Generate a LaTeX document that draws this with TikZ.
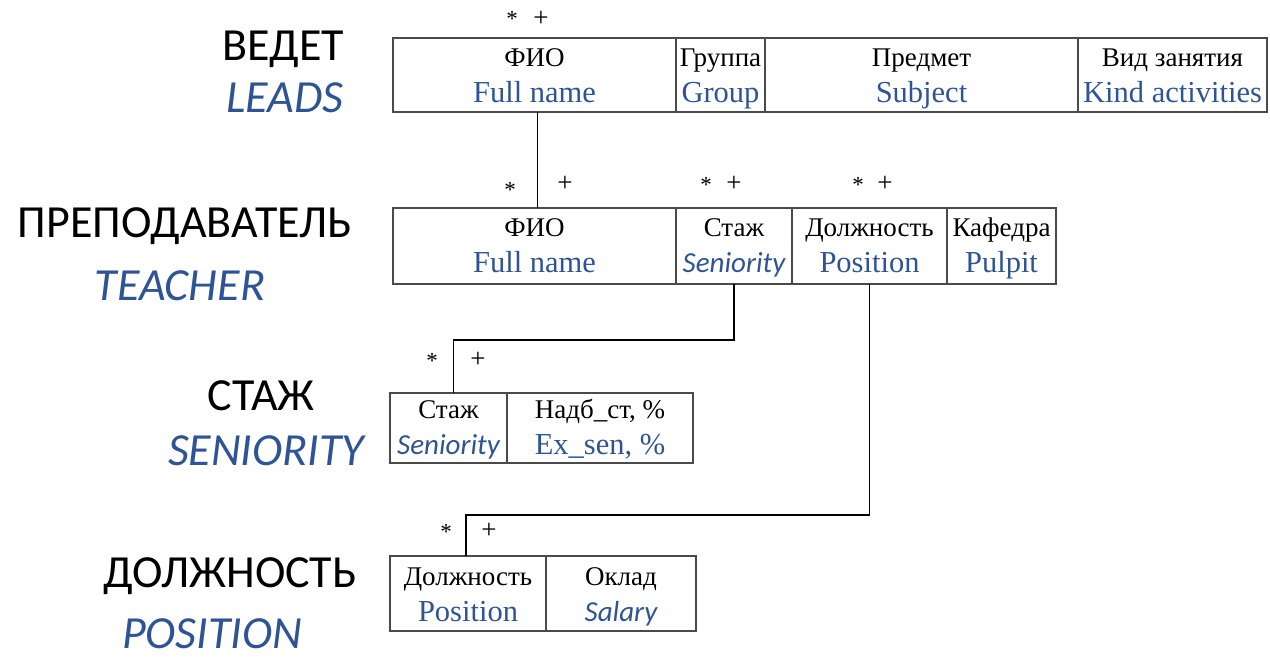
\documentclass[tikz,border=0pt]{standalone}
\usepackage{fontspec}
\setmainfont{Liberation Serif}
\newfontfamily\calibri{Carlito}
\usetikzlibrary{positioning}
\definecolor{ErBlue}{HTML}{2F5496}
\definecolor{ErFrame}{HTML}{4A4A4A}
\tikzset{
  cell/.style n args={2}{draw=ErFrame,line width=1.4pt,inner sep=0pt,outer sep=0pt,
    minimum width=#1,minimum height=#2},
  hdr/.style={anchor=base,inner sep=0pt,font=\fontsize{27}{30}\selectfont},
  eng/.style={anchor=base,inner sep=0pt,text=ErBlue,font=\fontsize{30.5}{33}\selectfont},
  engit/.style={eng,font=\calibri\itshape\fontsize{29}{32}\selectfont},
  title/.style={anchor=base,inner sep=0pt,font=\calibri\fontsize{46}{50}\selectfont},
  subtitle/.style={title,text=ErBlue,font=\calibri\itshape\fontsize{46}{50}\selectfont},
  card/.style={anchor=base,inner sep=0pt,font=\fontsize{23}{25}\selectfont},
  plus/.style={card,font=\fontsize{27}{29}\selectfont},
  link/.style={draw=black,line width=1.3pt}
}
\begin{document}
\begin{tikzpicture}[x=1pt,y=-1pt]
  \useasboundingbox (0,0) rectangle (1270,657);
  % entity names
  \node[title] (tLead) at (283,60) {ВЕДЕТ};
  \node[subtitle] (tLeadEn) at (285,112) {LEADS};
  \node[title] (tTeach) at (185,237) {ПРЕПОДАВАТЕЛЬ};
  \node[subtitle] (tTeachEn) at (180,300) {TEACHER};
  \node[title] (tSen) at (261,410) {СТАЖ};
  \node[subtitle] (tSenEn) at (266,465) {SENIORITY};
  \node[title] (tPos) at (230,587) {ДОЛЖНОСТЬ};
  \node[subtitle] (tPosEn) at (212,648) {POSITION};

  % ВЕДЕТ
  \node[cell={283}{74},anchor=north west] (leadFio) at (393,38) {};
  \node[cell={89}{74},right=0pt of leadFio] (leadGrp) {};
  \node[cell={313}{74},right=0pt of leadGrp] (leadSubj) {};
  \node[cell={189}{74},right=0pt of leadSubj] (leadKind) {};
  \node[hdr] (leadFioH) at ([yshift=-28]leadFio.north) {ФИО};
  \node[eng] (leadFioE) at ([yshift=-64]leadFio.north) {Full name};
  \node[hdr] (leadGrpH) at ([yshift=-28]leadGrp.north) {Группа};
  \node[eng] (leadGrpE) at ([yshift=-64]leadGrp.north) {Group};
  \node[hdr] (leadSubjH) at ([yshift=-28]leadSubj.north) {Предмет};
  \node[eng] (leadSubjE) at ([yshift=-64]leadSubj.north) {Subject};
  \node[hdr] (leadKindH) at ([yshift=-28]leadKind.north) {Вид занятия};
  \node[eng] (leadKindE) at ([yshift=-64]leadKind.north) {Kind activities};

  % ПРЕПОДАВАТЕЛЬ
  \node[cell={283}{76},anchor=north west] (teachFio) at (393,208) {};
  \node[cell={116}{76},right=0pt of teachFio] (teachSen) {};
  \node[cell={155}{76},right=0pt of teachSen] (teachPos) {};
  \node[cell={109}{76},right=0pt of teachPos] (teachDep) {};
  \node[hdr] (teachFioH) at ([yshift=-28]teachFio.north) {ФИО};
  \node[eng] (teachFioE) at ([yshift=-64]teachFio.north) {Full name};
  \node[hdr] (teachSenH) at ([yshift=-28]teachSen.north) {Стаж};
  \node[engit] (teachSenE) at ([yshift=-64]teachSen.north) {Seniority};
  \node[hdr] (teachPosH) at ([yshift=-28]teachPos.north) {Должность};
  \node[eng] (teachPosE) at ([yshift=-64]teachPos.north) {Position};
  \node[hdr] (teachDepH) at ([yshift=-28]teachDep.north) {Кафедра};
  \node[eng] (teachDepE) at ([yshift=-64]teachDep.north) {Pulpit};

  % СТАЖ
  \node[cell={117}{70},anchor=north west] (senSen) at (390,393) {};
  \node[cell={186}{70},right=0pt of senSen] (senBonus) {};
  \node[hdr] (senSenH) at ([yshift=-25]senSen.north) {Стаж};
  \node[engit] (senSenE) at ([yshift=-61]senSen.north) {Seniority};
  \node[hdr] (senBonusH) at ([yshift=-25]senBonus.north) {Надб\_ст, \%};
  \node[eng] (senBonusE) at ([yshift=-61]senBonus.north) {Ex\_sen, \%};

  % ДОЛЖНОСТЬ
  \node[cell={156}{75},anchor=north west] (posPos) at (390,556) {};
  \node[cell={150}{75},right=0pt of posPos] (posSal) {};
  \node[hdr] (posPosH) at ([yshift=-29]posPos.north) {Должность};
  \node[eng] (posPosE) at ([yshift=-65]posPos.north) {Position};
  \node[hdr] (posSalH) at ([yshift=-29]posSal.north) {Оклад};
  \node[engit] (posSalE) at ([yshift=-65]posSal.north) {Salary};

  % cardinalities
  \node[card] (leadStar) at (512,26) {*};
  \node[plus] (leadPlus) at (541,26) {+};
  \node[card] (teachFioStar) at (510,197) {*};
  \node[plus] (teachFioPlus) at (565,191) {+};
  \node[card] (teachSenStar) at (706,192) {*};
  \node[plus] (teachSenPlus) at (734,191) {+};
  \node[card] (teachPosStar) at (858,192) {*};
  \node[plus] (teachPosPlus) at (885,191) {+};
  \node[card] (senStar) at (432,368) {*};
  \node[plus] (senPlus) at (478,367) {+};
  \node[card] (posStar) at (446,539) {*};
  \node[plus] (posPlus) at (489,538) {+};

  % links
  \draw[link] ([xshift=3pt]leadFio.south) -- ([xshift=3pt]teachFio.north);
  \draw[link] (teachSen.south) -- ++(0,56) -| ([xshift=5pt]senSen.north);
  \draw[link] (teachPos.south) -- ++(0,231) -| ([xshift=-2pt]posPos.north);
\end{tikzpicture}
\end{document}
